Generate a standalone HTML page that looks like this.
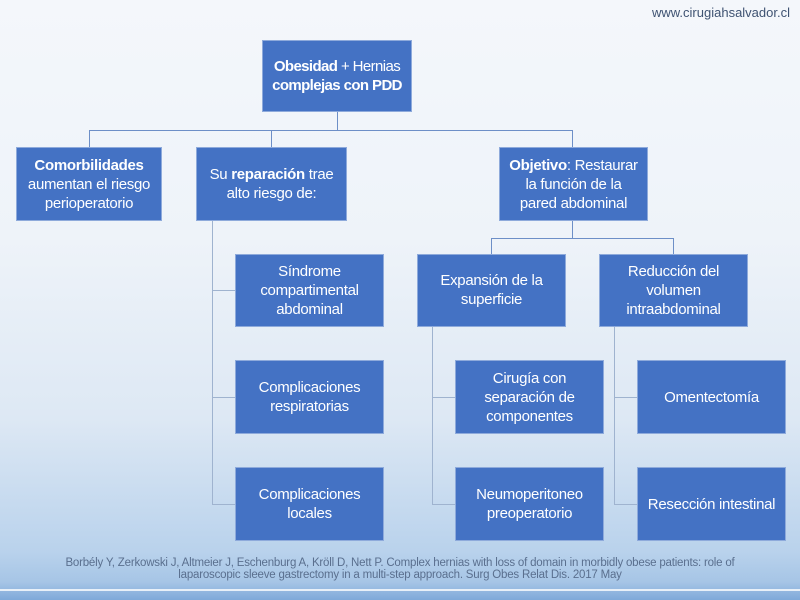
<!DOCTYPE html>
<html><head><meta charset="utf-8"><style>
body{margin:0;width:800px;height:600px;overflow:hidden;font-family:"Liberation Sans Narrow","Liberation Sans",sans-serif;}
#bg{position:absolute;left:0;top:0;width:800px;height:600px;background:linear-gradient(180deg,#f4f7fb 0%,#eef3f9 40%,#dde8f4 70%,#b9d2ec 92%,#a6c5e6 97%,#7fa9d9 100%);}
.b{position:absolute;background:#4472c4;border:1px solid #8eaadb;color:#fff;display:flex;align-items:center;justify-content:center;text-align:center;font-size:15px;line-height:19px;box-sizing:border-box;padding:0 2px;letter-spacing:-0.3px;}
.l{position:absolute;background:#6d8fc7;}
.lg{position:absolute;background:#9fb3cf;}
</style></head><body>
<div id="bg"></div>
<div style="position:absolute;right:10px;top:5px;font-size:13px;color:#3f5372;">www.cirugiahsalvador.cl</div>
<div class="l" style="left:337px;top:112px;width:1px;height:18px"></div>
<div class="l" style="left:89px;top:130px;width:484px;height:1px"></div>
<div class="l" style="left:89px;top:130px;width:1px;height:17px"></div>
<div class="l" style="left:271px;top:130px;width:1px;height:17px"></div>
<div class="l" style="left:572px;top:130px;width:1px;height:17px"></div>
<div class="l" style="left:572px;top:221px;width:1px;height:17px"></div>
<div class="l" style="left:491px;top:238px;width:183px;height:1px"></div>
<div class="l" style="left:491px;top:238px;width:1px;height:16px"></div>
<div class="l" style="left:673px;top:238px;width:1px;height:16px"></div>
<div class="lg" style="left:212px;top:221px;width:1px;height:284px"></div>
<div class="lg" style="left:212px;top:290px;width:23px;height:1px"></div>
<div class="lg" style="left:212px;top:397px;width:23px;height:1px"></div>
<div class="lg" style="left:212px;top:504px;width:23px;height:1px"></div>
<div class="lg" style="left:432px;top:327px;width:1px;height:178px"></div>
<div class="lg" style="left:432px;top:397px;width:23px;height:1px"></div>
<div class="lg" style="left:432px;top:504px;width:23px;height:1px"></div>
<div class="lg" style="left:614px;top:327px;width:1px;height:178px"></div>
<div class="lg" style="left:614px;top:397px;width:23px;height:1px"></div>
<div class="lg" style="left:614px;top:504px;width:23px;height:1px"></div>
<div class="b" style="left:262px;top:40px;width:150px;height:72px;white-space:nowrap;letter-spacing:-0.6px"><div><b>Obesidad</b> + Hernias<br><b>complejas con PDD</b></div></div>
<div class="b" style="left:16px;top:147px;width:146px;height:74px"><div><b>Comorbilidades</b><br>aumentan el riesgo<br>perioperatorio</div></div>
<div class="b" style="left:196px;top:147px;width:151px;height:74px"><div>Su <b>reparación</b> trae<br>alto riesgo de:</div></div>
<div class="b" style="left:499px;top:147px;width:149px;height:74px"><div><b>Objetivo</b>: Restaurar<br>la función de la<br>pared abdominal</div></div>
<div class="b" style="left:235px;top:254px;width:149px;height:73px"><div>Síndrome<br>compartimental<br>abdominal</div></div>
<div class="b" style="left:417px;top:254px;width:149px;height:73px;align-items:flex-start;padding-top:16px"><div>Expansión de la<br>superficie</div></div>
<div class="b" style="left:599px;top:254px;width:149px;height:73px"><div>Reducción del<br>volumen<br>intraabdominal</div></div>
<div class="b" style="left:235px;top:360px;width:149px;height:74px"><div>Complicaciones<br>respiratorias</div></div>
<div class="b" style="left:455px;top:360px;width:149px;height:74px"><div>Cirugía con<br>separación de<br>componentes</div></div>
<div class="b" style="left:637px;top:360px;width:149px;height:74px"><div>Omentectomía</div></div>
<div class="b" style="left:235px;top:467px;width:149px;height:74px"><div>Complicaciones<br>locales</div></div>
<div class="b" style="left:455px;top:467px;width:149px;height:74px"><div>Neumoperitoneo<br>preoperatorio</div></div>
<div class="b" style="left:637px;top:467px;width:149px;height:74px"><div>Resección intestinal</div></div>
<div style="position:absolute;left:0;width:800px;top:557px;text-align:center;font-size:11.5px;line-height:12px;color:#5a6f8e;letter-spacing:-0.2px">Borbély Y, Zerkowski J, Altmeier J, Eschenburg A, Kröll D, Nett P. Complex hernias with loss of domain in morbidly obese patients: role of<br>laparoscopic sleeve gastrectomy in a multi-step approach. Surg Obes Relat Dis. 2017 May</div>
<div style="position:absolute;left:0;top:589px;width:800px;height:2px;background:#e8f0f8"></div>
</body></html>
